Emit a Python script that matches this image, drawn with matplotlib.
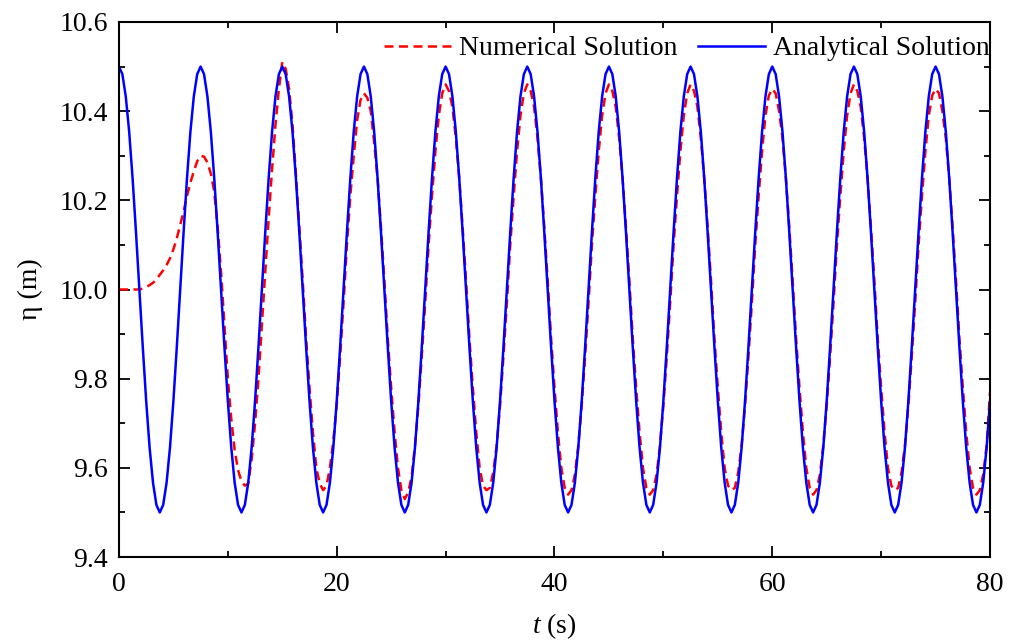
"""
Water level time series - numerical vs analytical solution
"""
import numpy as np
import matplotlib
matplotlib.use('Agg')
import matplotlib.pyplot as plt
from matplotlib.ticker import MultipleLocator, FormatStrFormatter

plt.rcParams['font.family'] = ['Liberation Serif', 'DejaVu Serif']
plt.rcParams['mathtext.fontset'] = 'custom'
plt.rcParams['mathtext.rm'] = 'Liberation Serif'
plt.rcParams['mathtext.it'] = 'Liberation Serif:italic'

# sample times (s), one value every 0.3125 s from 0 to 80
t_s = np.linspace(0, 80, 257)

# analytical solution (24 samples per 7.5 s period)
eta_analytical = [
    10.5, 10.483, 10.433, 10.354, 10.25, 10.129, 10.0, 9.871, 9.75, 9.646, 9.567, 9.517,
    9.5, 9.517, 9.567, 9.646, 9.75, 9.871, 10.0, 10.129, 10.25, 10.354, 10.433, 10.483,
    10.5, 10.483, 10.433, 10.354, 10.25, 10.129, 10.0, 9.871, 9.75, 9.646, 9.567, 9.517,
    9.5, 9.517, 9.567, 9.646, 9.75, 9.871, 10.0, 10.129, 10.25, 10.354, 10.433, 10.483,
    10.5, 10.483, 10.433, 10.354, 10.25, 10.129, 10.0, 9.871, 9.75, 9.646, 9.567, 9.517,
    9.5, 9.517, 9.567, 9.646, 9.75, 9.871, 10.0, 10.129, 10.25, 10.354, 10.433, 10.483,
    10.5, 10.483, 10.433, 10.354, 10.25, 10.129, 10.0, 9.871, 9.75, 9.646, 9.567, 9.517,
    9.5, 9.517, 9.567, 9.646, 9.75, 9.871, 10.0, 10.129, 10.25, 10.354, 10.433, 10.483,
    10.5, 10.483, 10.433, 10.354, 10.25, 10.129, 10.0, 9.871, 9.75, 9.646, 9.567, 9.517,
    9.5, 9.517, 9.567, 9.646, 9.75, 9.871, 10.0, 10.129, 10.25, 10.354, 10.433, 10.483,
    10.5, 10.483, 10.433, 10.354, 10.25, 10.129, 10.0, 9.871, 9.75, 9.646, 9.567, 9.517,
    9.5, 9.517, 9.567, 9.646, 9.75, 9.871, 10.0, 10.129, 10.25, 10.354, 10.433, 10.483,
    10.5, 10.483, 10.433, 10.354, 10.25, 10.129, 10.0, 9.871, 9.75, 9.646, 9.567, 9.517,
    9.5, 9.517, 9.567, 9.646, 9.75, 9.871, 10.0, 10.129, 10.25, 10.354, 10.433, 10.483,
    10.5, 10.483, 10.433, 10.354, 10.25, 10.129, 10.0, 9.871, 9.75, 9.646, 9.567, 9.517,
    9.5, 9.517, 9.567, 9.646, 9.75, 9.871, 10.0, 10.129, 10.25, 10.354, 10.433, 10.483,
    10.5, 10.483, 10.433, 10.354, 10.25, 10.129, 10.0, 9.871, 9.75, 9.646, 9.567, 9.517,
    9.5, 9.517, 9.567, 9.646, 9.75, 9.871, 10.0, 10.129, 10.25, 10.354, 10.433, 10.483,
    10.5, 10.483, 10.433, 10.354, 10.25, 10.129, 10.0, 9.871, 9.75, 9.646, 9.567, 9.517,
    9.5, 9.517, 9.567, 9.646, 9.75, 9.871, 10.0, 10.129, 10.25, 10.354, 10.433, 10.483,
    10.5, 10.483, 10.433, 10.354, 10.25, 10.129, 10.0, 9.871, 9.75, 9.646, 9.567, 9.517,
    9.5, 9.517, 9.567, 9.646, 9.75,
]

# numerical solution
eta_numerical = [
    10.0, 10.0, 10.0, 10.0, 10.0, 10.0, 10.0, 10.002, 10.005, 10.01, 10.015, 10.023,
    10.033, 10.043, 10.055, 10.07, 10.09, 10.115, 10.145, 10.175, 10.21, 10.24, 10.265, 10.288,
    10.3, 10.298, 10.285, 10.26, 10.22, 10.14, 10.04, 9.92, 9.8, 9.71, 9.64, 9.595,
    9.57, 9.56, 9.565, 9.62, 9.7, 9.8, 9.92, 10.04, 10.16, 10.27, 10.37, 10.45,
    10.51, 10.495, 10.45, 10.37, 10.26, 10.14, 10.02, 9.89, 9.78, 9.68, 9.6, 9.565,
    9.55, 9.56, 9.6, 9.66, 9.74, 9.85, 9.97, 10.1, 10.21, 10.3, 10.38, 10.425,
    10.44, 10.43, 10.40, 10.33, 10.25, 10.14, 10.02, 9.89, 9.78, 9.68, 9.6, 9.55,
    9.53, 9.545, 9.58, 9.65, 9.74, 9.85, 9.97, 10.1, 10.21, 10.31, 10.39, 10.44,
    10.46, 10.445, 10.41, 10.34, 10.25, 10.14, 10.02, 9.89, 9.78, 9.68, 9.6, 9.56,
    9.55, 9.555, 9.59, 9.65, 9.74, 9.85, 9.97, 10.1, 10.21, 10.31, 10.39, 10.44,
    10.46, 10.445, 10.41, 10.34, 10.25, 10.14, 10.02, 9.89, 9.78, 9.68, 9.6, 9.555,
    9.54, 9.55, 9.585, 9.65, 9.74, 9.85, 9.97, 10.1, 10.21, 10.31, 10.39, 10.44,
    10.46, 10.445, 10.41, 10.34, 10.25, 10.14, 10.02, 9.89, 9.78, 9.68, 9.6, 9.555,
    9.54, 9.55, 9.585, 9.65, 9.74, 9.85, 9.97, 10.1, 10.21, 10.31, 10.39, 10.44,
    10.46, 10.445, 10.41, 10.34, 10.25, 10.14, 10.02, 9.89, 9.78, 9.68, 9.6, 9.56,
    9.55, 9.555, 9.59, 9.65, 9.74, 9.85, 9.97, 10.1, 10.21, 10.31, 10.39, 10.435,
    10.45, 10.44, 10.40, 10.34, 10.25, 10.14, 10.02, 9.89, 9.78, 9.68, 9.6, 9.555,
    9.54, 9.55, 9.585, 9.65, 9.74, 9.85, 9.97, 10.1, 10.21, 10.31, 10.39, 10.44,
    10.46, 10.445, 10.41, 10.34, 10.25, 10.14, 10.02, 9.89, 9.78, 9.68, 9.6, 9.56,
    9.55, 9.555, 9.59, 9.65, 9.74, 9.85, 9.97, 10.1, 10.21, 10.31, 10.39, 10.435,
    10.45, 10.44, 10.40, 10.34, 10.25, 10.14, 10.02, 9.89, 9.78, 9.68, 9.6, 9.555,
    9.54, 9.55, 9.585, 9.65, 9.77,
]

FS = 20

fig = plt.figure(figsize=(10.15, 6.41), dpi=100)
ax = fig.add_axes([0.1172, 0.131, 0.8582, 0.8347])

ax.plot(t_s, eta_numerical, color='red', linestyle=(0, (3.6, 2.2)), linewidth=1.8,
        label='Numerical Solution')
ax.plot(t_s, eta_analytical, color='blue', linewidth=1.8, label='Analytical Solution')

ax.set_xlim(0, 80)
ax.set_ylim(9.4, 10.6)
ax.xaxis.set_major_locator(MultipleLocator(20))
ax.xaxis.set_minor_locator(MultipleLocator(10))
ax.yaxis.set_major_locator(MultipleLocator(0.2))
ax.yaxis.set_minor_locator(MultipleLocator(0.1))
ax.yaxis.set_major_formatter(FormatStrFormatter('%.1f'))

ax.tick_params(which='both', direction='in', top=True, right=True,
               labelsize=FS, width=1.3, pad=8)
ax.tick_params(axis='x', pad=11)
ax.tick_params(which='major', length=8)
ax.tick_params(which='minor', length=4.5)
for sp in ax.spines.values():
    sp.set_linewidth(1.5)

ax.set_xlabel(r'$t$ (s)', fontsize=FS, labelpad=10)
ax.set_ylabel('η (m)', fontsize=FS, labelpad=12)

ax.legend(loc='upper right', bbox_to_anchor=(1.0, 0.974), ncol=2, frameon=False,
          fontsize=FS, handlelength=2.4, handletextpad=0.3, columnspacing=0.75,
          borderpad=0, borderaxespad=0)

fig.savefig('out.png', dpi=100)
